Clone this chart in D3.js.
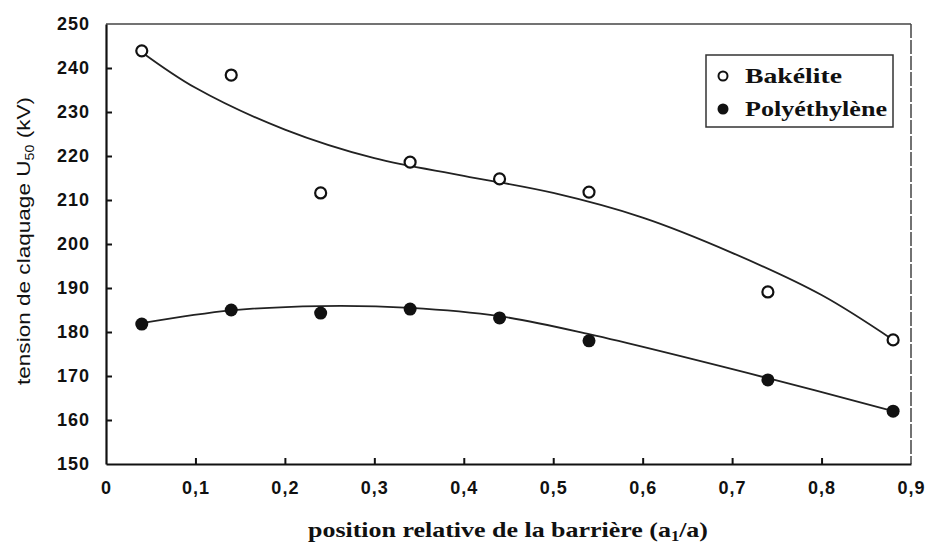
<!DOCTYPE html>
<html>
<head>
<meta charset="utf-8">
<script src="https://cdn.jsdelivr.net/npm/d3@7"></script>
<style>
  body { margin: 0; background: #fff; }
  svg { display: block; }
</style>
</head>
<body>
<div id="chart"></div>
<script>
// positions relatives mesurées
let positions = [0.04, 0.14, 0.24, 0.34, 0.44, 0.54, 0.74, 0.88]
let bakelite = [243.9, 238.4, 211.6, 218.6, 214.8, 211.8, 189.1, 178.2]
let polyethylene = [181.8, 185.0, 184.3, 185.2, 183.2, 178.0, 169.1, 162.0]

// courbes lissées
let fitX = [0.04, 0.1, 0.2, 0.3, 0.4, 0.5, 0.6, 0.7, 0.8, 0.88]
let bakeliteFit = [243.6, 235.5, 226.0, 219.5, 215.5, 211.6, 206.0, 198.0, 188.4, 178.2]
let polyFitX = [0.04, 0.14, 0.24, 0.34, 0.44, 0.54, 0.74, 0.88]
let polyethyleneFit = [182.0, 184.9, 185.9, 185.5, 183.6, 179.5, 169.5, 162.0]

let xTicks = [0, 0.1, 0.2, 0.3, 0.4, 0.5, 0.6, 0.7, 0.8, 0.9]
let yTicks = [150, 160, 170, 180, 190, 200, 210, 220, 230, 240, 250]

let width = 926, height = 550
let frame = { left: 106, right: 911, top: 24, bottom: 464 }

let svg = d3.select("#chart")
    .append("svg")
    .attr("width", width)
    .attr("height", height)

let x = d3.scaleLinear().domain([0, 0.9]).range([frame.left, frame.right])
let y = d3.scaleLinear().domain([150, 250]).range([frame.bottom, frame.top])

//cadre haut et droit
svg.append("line")
    .attr("x1", frame.left).attr("y1", frame.top)
    .attr("x2", frame.right).attr("y2", frame.top)
    .attr("stroke", "#444").attr("stroke-width", 1.5)
svg.append("line")
    .attr("x1", frame.right).attr("y1", frame.top)
    .attr("x2", frame.right).attr("y2", frame.bottom)
    .attr("stroke", "#444").attr("stroke-width", 1.5)
    .attr("stroke-dasharray", "14,2")

//axes
let xAxis = d3.axisBottom(x)
    .tickValues(xTicks)
    .tickSizeInner(-6)
    .tickSizeOuter(0)
    .tickPadding(17)
    .tickFormat(d => d === 0 ? "0" : d3.format(".1f")(d).replace(".", ","))
let yAxis = d3.axisLeft(y)
    .tickValues(yTicks)
    .tickSizeInner(-6)
    .tickSizeOuter(0)
    .tickPadding(16)

let gx = svg.append("g")
    .attr("transform", "translate(0," + frame.bottom + ")")
    .call(xAxis)
let gy = svg.append("g")
    .attr("transform", "translate(" + frame.left + ",0)")
    .call(yAxis)

for (let g of [gx, gy]) {
    g.select(".domain").attr("stroke", "#111").attr("stroke-width", 2.2)
    g.selectAll(".tick line").attr("stroke", "#111").attr("stroke-width", 2)
    g.selectAll(".tick text")
        .style("font-family", "'Liberation Sans', Arial, sans-serif")
        .style("font-weight", "bold")
        .style("font-size", "18px")
        .style("letter-spacing", "1px")
        .attr("fill", "#111")
}
gx.selectAll(".tick").filter(d => d === 0 || d === 0.9).select("line").remove()
gy.selectAll(".tick").filter(d => d === 150 || d === 250).select("line").remove()
gx.selectAll(".tick text").attr("dy", "0.72em")

//courbes lissées
let line = d3.line()
    .x(d => x(d[0]))
    .y(d => y(d[1]))
    .curve(d3.curveCatmullRom.alpha(0.5))

svg.append("path")
    .attr("d", line(d3.zip(fitX, bakeliteFit)))
    .attr("fill", "none")
    .attr("stroke", "#222")
    .attr("stroke-width", 1.8)
svg.append("path")
    .attr("d", line(d3.zip(polyFitX, polyethyleneFit)))
    .attr("fill", "none")
    .attr("stroke", "#222")
    .attr("stroke-width", 1.8)

//points
svg.selectAll(".bakelite")
    .data(d3.zip(positions, bakelite))
    .enter()
    .append("circle")
    .attr("class", "bakelite")
    .attr("cx", d => x(d[0]))
    .attr("cy", d => y(d[1]))
    .attr("r", 5.5)
    .attr("fill", "#fff")
    .attr("stroke", "#111")
    .attr("stroke-width", 2.2)

svg.selectAll(".poly")
    .data(d3.zip(positions, polyethylene))
    .enter()
    .append("circle")
    .attr("class", "poly")
    .attr("cx", d => x(d[0]))
    .attr("cy", d => y(d[1]))
    .attr("r", 6.5)
    .attr("fill", "#111")

//légende
let legend = svg.append("g").attr("transform", "translate(706,55)")
legend.append("rect")
    .attr("width", 187).attr("height", 72)
    .attr("fill", "#fff")
    .attr("stroke", "#333").attr("stroke-width", 1.5)
legend.append("circle")
    .attr("cx", 17).attr("cy", 21).attr("r", 4.5)
    .attr("fill", "#fff").attr("stroke", "#111").attr("stroke-width", 2)
legend.append("circle")
    .attr("cx", 17).attr("cy", 54).attr("r", 5.5)
    .attr("fill", "#111")
let legWidths = [97, 142]
legend.selectAll(".legText")
    .data(["Bakélite", "Polyéthylène"])
    .enter()
    .append("text")
    .attr("class", "legText")
    .attr("x", 39)
    .attr("y", (d, i) => 28 + i * 33)
    .attr("textLength", (d, i) => legWidths[i])
    .attr("lengthAdjust", "spacingAndGlyphs")
    .text(d => d)
    .style("font-family", "'Liberation Serif', 'Times New Roman', serif")
    .style("font-weight", "bold")
    .style("font-size", "22px")
    .attr("fill", "#111")

//titres des axes
let yl = svg.append("text")
    .attr("transform", "translate(30,241) rotate(-90)")
    .attr("text-anchor", "middle")
    .attr("textLength", 288)
    .attr("lengthAdjust", "spacingAndGlyphs")
    .style("font-family", "'Liberation Sans', Arial, sans-serif")
    .style("font-size", "19px")
    .attr("fill", "#111")
yl.append("tspan").text("tension de claquage U")
yl.append("tspan").text("50").attr("font-size", "12px").attr("dy", 4)
yl.append("tspan").text(" (kV)").attr("dy", -4)

let xl = svg.append("text")
    .attr("x", 508).attr("y", 537)
    .attr("text-anchor", "middle")
    .attr("textLength", 400)
    .attr("lengthAdjust", "spacingAndGlyphs")
    .style("font-family", "'Liberation Serif', 'Times New Roman', serif")
    .style("font-weight", "bold")
    .style("font-size", "22px")
    .attr("fill", "#111")
xl.append("tspan").text("position relative de la barrière (a")
xl.append("tspan").text("1").attr("font-size", "14px").attr("dy", 4)
xl.append("tspan").text("/a)").attr("dy", -4)
</script>
</body>
</html>
